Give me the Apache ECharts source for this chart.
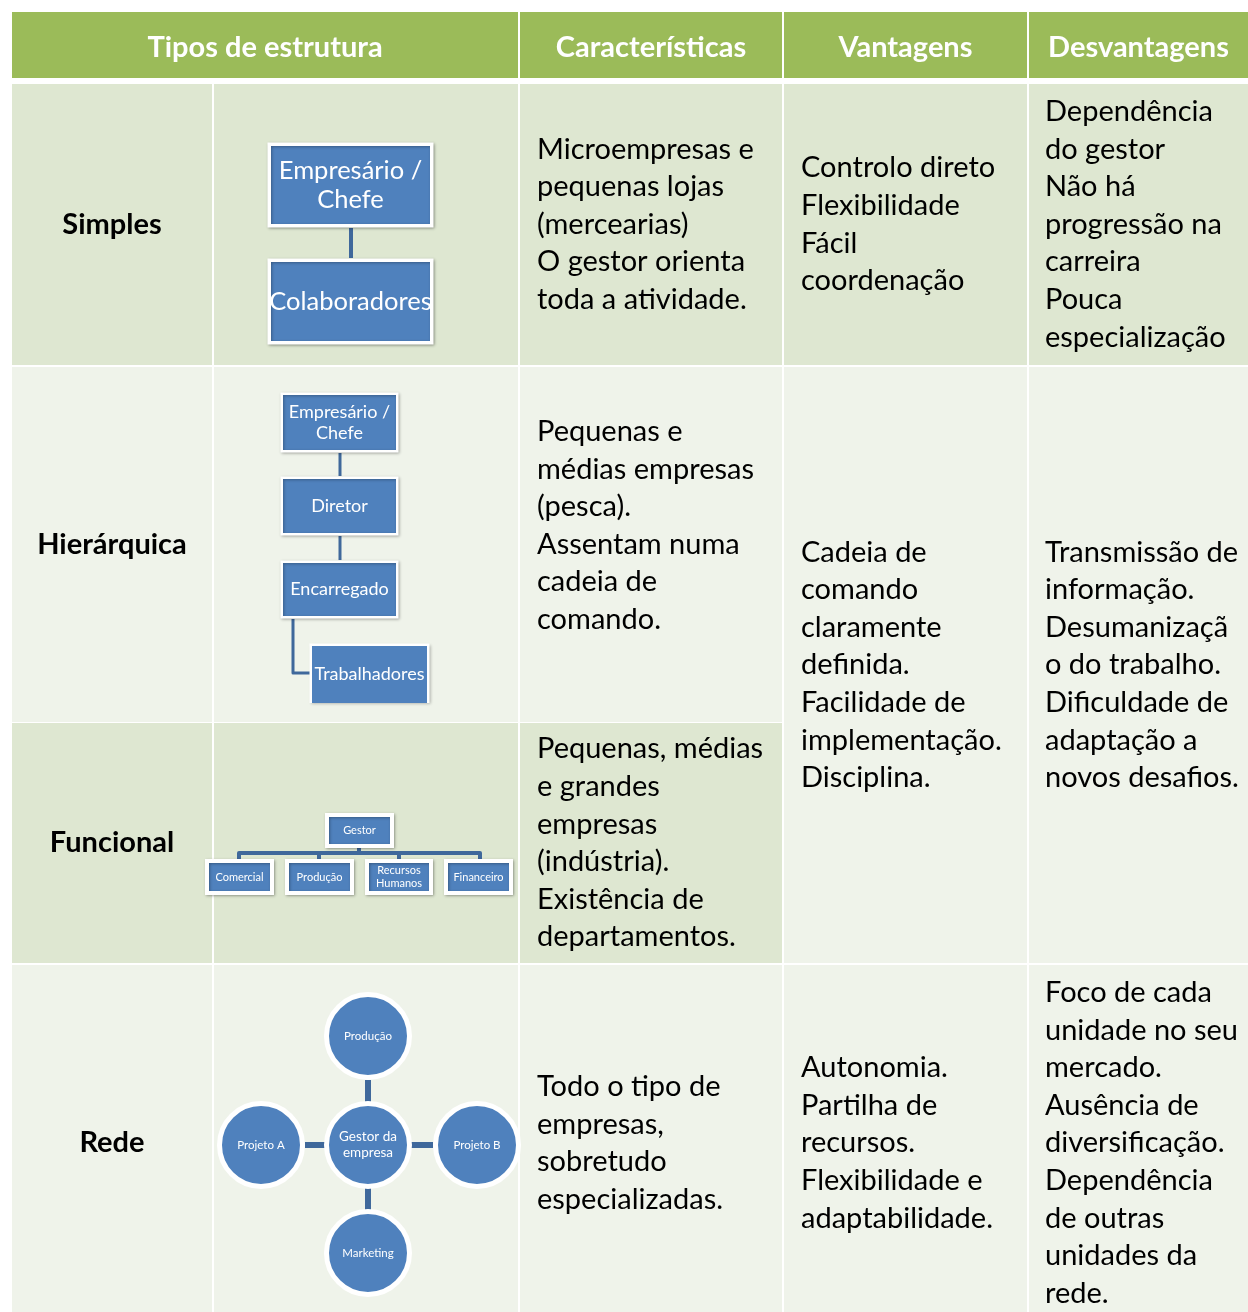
<!DOCTYPE html>
<html><head><meta charset="utf-8">
<script src="https://cdn.jsdelivr.net/npm/echarts@6/dist/echarts.min.js"></script>
<style>html,body{margin:0;padding:0;background:#fff}#c{width:1248px;height:1312px}</style>
</head><body><div id="c"></div>
<script>
// ---------------- content ----------------
const headers = ['Tipos de estrutura', 'Características', 'Vantagens', 'Desvantagens'];
const types = ['Simples', 'Hierárquica', 'Funcional', 'Rede'];
const caracteristicas = [
  'Microempresas e\npequenas lojas\n(mercearias)\nO gestor orienta\ntoda a atividade.',
  'Pequenas e\nmédias empresas\n(pesca).\nAssentam numa\ncadeia de\ncomando.\n ',
  'Pequenas, médias\ne grandes\nempresas\n(indústria).\nExistência de\ndepartamentos.',
  'Todo o tipo de\nempresas,\nsobretudo\nespecializadas.'
];
// row span of each Vantagens / Desvantagens entry (Hierárquica + Funcional share one cell)
const sharedSpans = [[0, 0], [1, 2], [3, 3]];
const vantagens = [
  'Controlo direto\nFlexibilidade\nFácil\ncoordenação',
  'Cadeia de\ncomando\nclaramente\ndefinida.\nFacilidade de\nimplementação.\nDisciplina.',
  'Autonomia.\nPartilha de\nrecursos.\nFlexibilidade e\nadaptabilidade.'
];
const desvantagens = [
  'Dependência\ndo gestor\nNão há\nprogressão na\ncarreira\nPouca\nespecialização',
  'Transmissão de\ninformação.\nDesumanizaçã\no do trabalho.\nDificuldade de\nadaptação a\nnovos desafios.',
  'Foco de cada\nunidade no seu\nmercado.\nAusência de\ndiversificação.\nDependência\nde outras\nunidades da\nrede.'
];
const simplesNodes = ['Empresário /\nChefe', 'Colaboradores'];
const hierarquicaNodes = ['Empresário /\nChefe', 'Diretor', 'Encarregado', 'Trabalhadores'];
const funcionalTop = ['Gestor'];
const funcionalNodes = ['Comercial', 'Produção', 'Recursos\nHumanos', 'Financeiro'];
const redeCenter = ['Gestor da\nempresa'];
const redeNodes = ['Produção', 'Projeto A', 'Projeto B', 'Marketing'];

// ---------------- layout / style ----------------
const W = 1248, H = 1312;
const colEdges = [11, 213, 519, 783, 1028, 1249];
const headerY = [12, 78];
const rowEdges = [[84, 365], [367, 722], [723, 963], [965, 1321]];
const C = {
  header: '#9BBB59', dark: '#DEE7D1', light: '#EFF3EA', box: '#4F81BD', link: '#3F689B'
};
const FONT = 'Lato, "Open Sans", sans-serif';
const bodyFont = '29px ' + FONT;
const bodyLH = 37.6;
const headFont = 'bold 29px ' + FONT;
const labelFont = 'bold 29px ' + FONT;
const rowFill = [C.dark, C.light, C.dark, C.light];

// build cells
const cells = [];
function cell(c0, c1, r0y, r1y, fill, text, opts) {
  cells.push(Object.assign({ x0: colEdges[c0] + 1, x1: colEdges[c1 + 1] - 1, y0: r0y, y1: r1y, fill, text }, opts || {}));
}
// header
cell(0, 1, headerY[0], headerY[1], C.header, headers[0], { font: headFont, color: '#fff', align: 'center', dy: 3 });
for (let i = 1; i < headers.length; i++) {
  cell(i + 1, i + 1, headerY[0], headerY[1], C.header, headers[i], { font: headFont, color: '#fff', align: 'center', dy: 3 });
}
types.forEach((t, i) => {
  const [y0, y1] = rowEdges[i];
  cell(0, 0, y0, y1, rowFill[i], t, { font: labelFont, color: '#000', align: 'center' });
  cell(1, 1, y0, y1, rowFill[i], '');
  cell(2, 2, y0, y1, rowFill[i], caracteristicas[i], { font: bodyFont, color: '#000', align: 'left', pad: 17, lh: bodyLH });
});
sharedSpans.forEach((s, k) => {
  const y0 = rowEdges[s[0]][0], y1 = rowEdges[s[1]][1];
  const fill = s[0] === s[1] ? rowFill[s[0]] : C.light;
  cell(3, 3, y0, y1, fill, vantagens[k], { font: bodyFont, color: '#000', align: 'left', pad: 17, lh: bodyLH });
  cell(4, 4, y0, y1, fill, desvantagens[k], { font: bodyFont, color: '#000', align: 'left', pad: 16, lh: bodyLH });
});

// diagram boxes (fill rectangles), white border drawn outside
const boxes = [];
// Simples
[[146, 224], [262, 341]].forEach((yy, i) => boxes.push({ x0: 271, x1: 430, y0: yy[0], y1: yy[1], text: simplesNodes[i], fs: 25.5, lh: 29, bw: 3.5 }));
// Hierárquica
[[395, 450], [479, 533], [563, 616], [646, 703]].forEach((yy, i) => {
  const sub = i === 3;
  boxes.push({ x0: sub ? 312 : 283, x1: sub ? 427 : 396, y0: yy[0], y1: yy[1], text: hierarquicaNodes[i], fs: 18, lh: 21, bw: 2.5, openBottom: sub });
});
// Funcional
boxes.push({ x0: 329, x1: 390, y0: 817, y1: 844, text: funcionalTop[0], fs: 11, lh: 13, bw: 4 });
[[209, 270], [289, 350], [369, 429], [448, 509]].forEach((xx, i) => boxes.push({ x0: xx[0], x1: xx[1], y0: 863, y1: 891, text: funcionalNodes[i], fs: 11, lh: 12.5, bw: 4 }));

// circles (Rede)
const circles = [
  { cx: 368, cy: 1145, text: redeCenter[0], fs: 13.5, lh: 16 },
  { cx: 368, cy: 1036, text: redeNodes[0], fs: 11.5, lh: 13 },
  { cx: 261, cy: 1145, text: redeNodes[1], fs: 11.5, lh: 13 },
  { cx: 477, cy: 1145, text: redeNodes[2], fs: 11.5, lh: 13 },
  { cx: 368, cy: 1253, text: redeNodes[3], fs: 11.5, lh: 13 }
];

// connectors
const links = [
  { pts: [[351, 228], [351, 258]], w: 4 },
  { pts: [[340, 453], [340, 476]], w: 3 },
  { pts: [[340, 536], [340, 560]], w: 3 },
  { pts: [[293, 619], [293, 673], [310, 673]], w: 3 },
  { pts: [[359, 848], [359, 853]], w: 4 },
  { pts: [[239, 860], [239, 853], [480, 853], [480, 860]], w: 4 },
  { pts: [[319, 853], [319, 859]], w: 4 },
  { pts: [[399, 853], [399, 859]], w: 4 },
  { pts: [[368, 1080], [368, 1102]], w: 6 },
  { pts: [[368, 1188], [368, 1210]], w: 6 },
  { pts: [[305, 1145], [325, 1145]], w: 6 },
  { pts: [[411, 1145], [433, 1145]], w: 6 }
];

// ---------------- chart ----------------
const chart = echarts.init(document.getElementById('c'), null, { renderer: 'canvas', width: W, height: H });
const idx = arr => arr.map((_, i) => [i, i]);

function pt(api, x, y) { return api.coord([x, y]); }

const option = {
  backgroundColor: '#ffffff',
  animation: false,
  grid: { left: 0, right: 0, top: 0, bottom: 0 },
  xAxis: { type: 'value', min: 0, max: W, show: false },
  yAxis: { type: 'value', min: 0, max: H, inverse: true, show: false },
  series: [
    {
      type: 'custom', name: 'cells', data: idx(cells), clip: false, silent: true,
      renderItem: (params, api) => {
        const c = cells[params.dataIndex];
        const p0 = pt(api, c.x0, c.y0), p1 = pt(api, c.x1, c.y1);
        const children = [{ type: 'rect', shape: { x: p0[0], y: p0[1], width: p1[0] - p0[0], height: p1[1] - p0[1] }, style: { fill: c.fill } }];
        if (c.text) {
          const left = c.align === 'left';
          children.push({
            type: 'text',
            style: {
              text: c.text, font: c.font, fill: c.color,
              x: left ? p0[0] + c.pad : (p0[0] + p1[0]) / 2,
              y: (p0[1] + p1[1]) / 2 + (c.dy || 0),
              align: left ? 'left' : 'center', verticalAlign: 'middle',
              lineHeight: c.lh || undefined
            }
          });
        }
        return { type: 'group', children };
      }
    },
    {
      type: 'custom', name: 'links', data: idx(links), clip: false, silent: true, z: 3,
      renderItem: (params, api) => {
        const l = links[params.dataIndex];
        return { type: 'polyline', shape: { points: l.pts.map(p => pt(api, p[0], p[1])) }, style: { stroke: C.link, lineWidth: l.w, fill: null, lineJoin: 'round' } };
      }
    },
    {
      type: 'custom', name: 'boxes', data: idx(boxes), clip: false, silent: true, z: 4,
      renderItem: (params, api) => {
        const b = boxes[params.dataIndex];
        const p0 = pt(api, b.x0, b.y0), p1 = pt(api, b.x1, b.y1);
        const h = b.bw / 2;
        const children = [];
        if (b.openBottom) {
          children.push({ type: 'rect', shape: { x: p0[0] - b.bw, y: p0[1] - b.bw, width: p1[0] - p0[0] + 2 * b.bw, height: p1[1] - p0[1] + b.bw }, style: { fill: '#fff', shadowBlur: 3, shadowColor: 'rgba(0,0,0,0.3)', shadowOffsetX: 1, shadowOffsetY: 1 } });
          children.push({ type: 'rect', shape: { x: p0[0], y: p0[1], width: p1[0] - p0[0], height: p1[1] - p0[1] }, style: { fill: C.box } });
        } else {
          children.push({ type: 'rect', shape: { x: p0[0] - h, y: p0[1] - h, width: p1[0] - p0[0] + b.bw, height: p1[1] - p0[1] + b.bw }, style: { fill: C.box, stroke: '#fff', lineWidth: b.bw, shadowBlur: 3, shadowColor: 'rgba(0,0,0,0.3)', shadowOffsetX: 1, shadowOffsetY: 1 } });
        }
        children.push({ type: 'text', style: { text: b.text, font: b.fs + 'px ' + FONT, fill: '#fff', x: (p0[0] + p1[0]) / 2, y: (p0[1] + p1[1]) / 2, align: 'center', verticalAlign: 'middle', lineHeight: b.lh } });
        return { type: 'group', children };
      }
    },
    {
      type: 'custom', name: 'circles', data: idx(circles), clip: false, silent: true, z: 4,
      renderItem: (params, api) => {
        const c = circles[params.dataIndex];
        const p = pt(api, c.cx, c.cy);
        const r = api.size([39, 0])[0];
        return {
          type: 'group', children: [
            { type: 'circle', shape: { cx: p[0], cy: p[1], r: r + 2.5 }, style: { fill: C.box, stroke: '#fff', lineWidth: 5 } },
            { type: 'text', style: { text: c.text, font: c.fs + 'px ' + FONT, fill: '#fff', x: p[0], y: p[1], align: 'center', verticalAlign: 'middle', lineHeight: c.lh } }
          ]
        };
      }
    }
  ]
};
chart.setOption(option);
</script></body></html>
